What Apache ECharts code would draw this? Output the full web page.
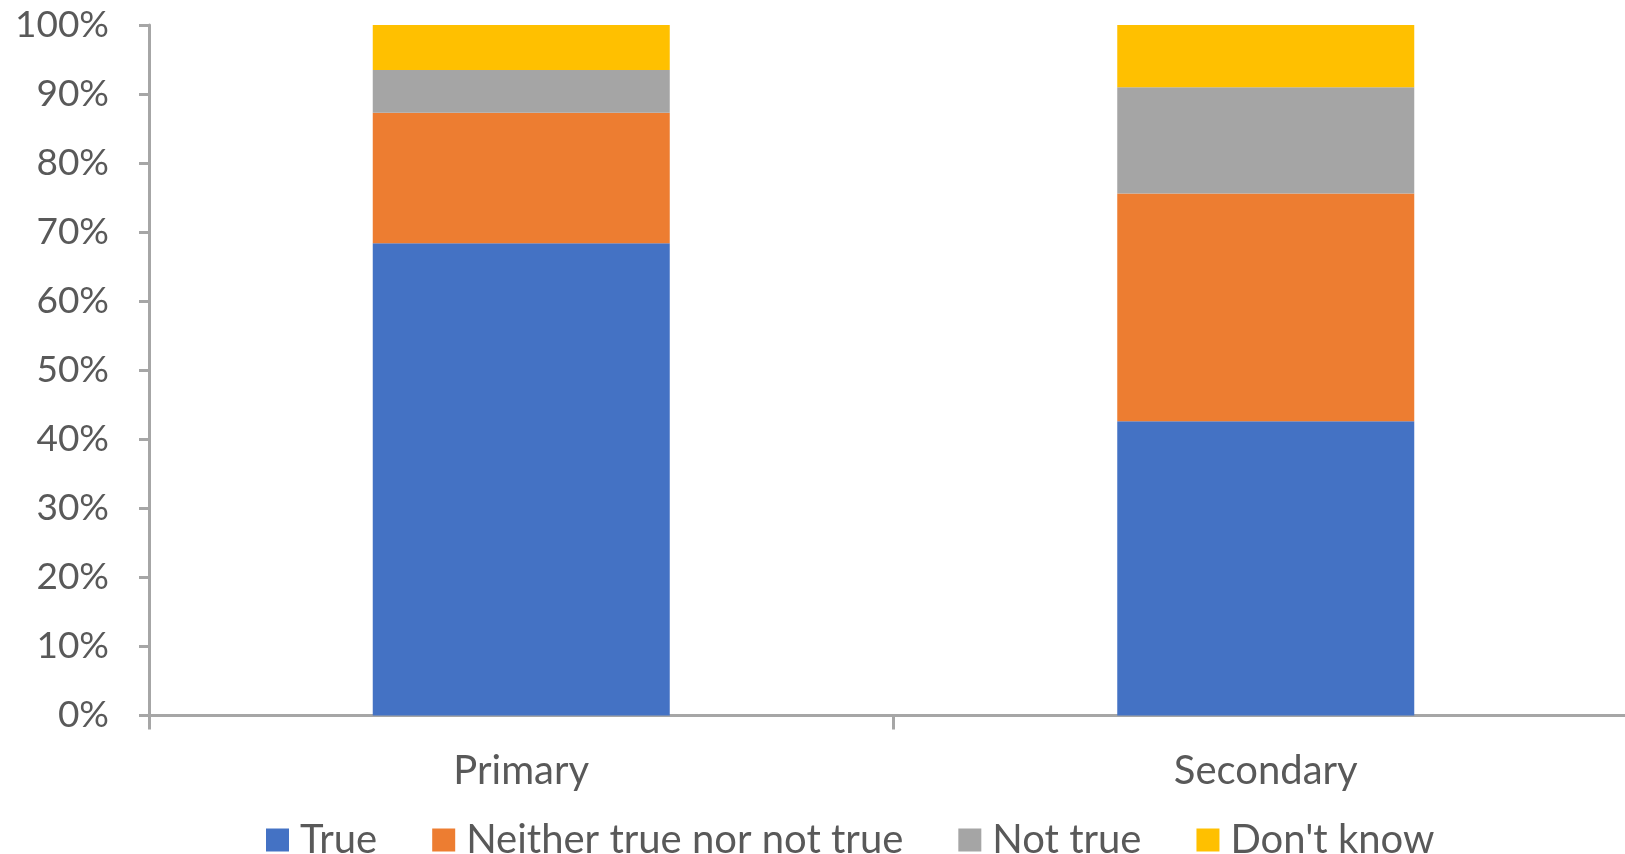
<!DOCTYPE html>
<html>
<head>
<meta charset="utf-8">
<style>
  html, body { margin: 0; padding: 0; background: #ffffff; overflow: hidden; }
  /* the plot runs a little past the right edge of the window */
  #chart { width: 1638px; height: 854px; }
</style>
<script src="https://cdn.jsdelivr.net/npm/echarts@6/dist/echarts.min.js"></script>
</head>
<body>
<div id="chart"></div>
<script>
// School phases on the category axis
const categories = ['Primary', 'Secondary'];

// Response shares (percent of respondents), stacked bottom to top
const seriesNames = ['True', 'Neither true nor not true', 'Not true', "Don't know"];
const trueVals = [68.4, 42.6];
const neitherVals = [18.9, 33.0];
const notTrueVals = [6.2, 15.4];
const dontKnowVals = [6.5, 9.0];

const colors = ['#4472C4', '#ED7D31', '#A5A5A5', '#FFC000'];
const textColor = '#595959';
const axisColor = '#A6A6A6';
const fontFamily = "Lato, 'Open Sans', sans-serif";

const chart = echarts.init(document.getElementById('chart'), null, { renderer: 'canvas' });

function stackSeries(name, data, color) {
  return {
    name: name,
    type: 'bar',
    stack: 'total',
    data: data,
    barWidth: 297,
    itemStyle: { color: color },
    emphasis: { disabled: true }
  };
}

chart.setOption({
  animation: false,
  color: colors,
  grid: { left: 149, top: 25, right: 0, bottom: 854 - 715.5, containLabel: false },
  legend: {
    left: 261,
    top: 815,
    itemWidth: 23,
    itemHeight: 23,
    itemGap: 55,
    icon: 'rect',
    textStyle: { color: textColor, fontSize: 40, lineHeight: 40, fontFamily: fontFamily, padding: [0, 0, 0, 6] },
    data: seriesNames
  },
  xAxis: {
    type: 'category',
    data: categories,
    axisLine: { show: true, lineStyle: { color: axisColor, width: 3 } },
    axisTick: { show: true, length: 14, interval: 0, lineStyle: { color: axisColor, width: 3 } },
    axisLabel: { color: textColor, fontSize: 40, fontFamily: fontFamily, margin: 36 },
    splitLine: { show: false }
  },
  yAxis: {
    type: 'value',
    min: 0,
    max: 100,
    interval: 10,
    axisLine: { show: true, lineStyle: { color: axisColor, width: 3 } },
    axisTick: { show: true, length: 10, lineStyle: { color: axisColor, width: 3 } },
    axisLabel: { color: textColor, fontSize: 37, fontFamily: fontFamily, margin: 40, formatter: '{value}%' },
    splitLine: { show: false }
  },
  series: [
    stackSeries(seriesNames[0], trueVals, colors[0]),
    stackSeries(seriesNames[1], neitherVals, colors[1]),
    stackSeries(seriesNames[2], notTrueVals, colors[2]),
    stackSeries(seriesNames[3], dontKnowVals, colors[3])
  ]
});
</script>
</body>
</html>
